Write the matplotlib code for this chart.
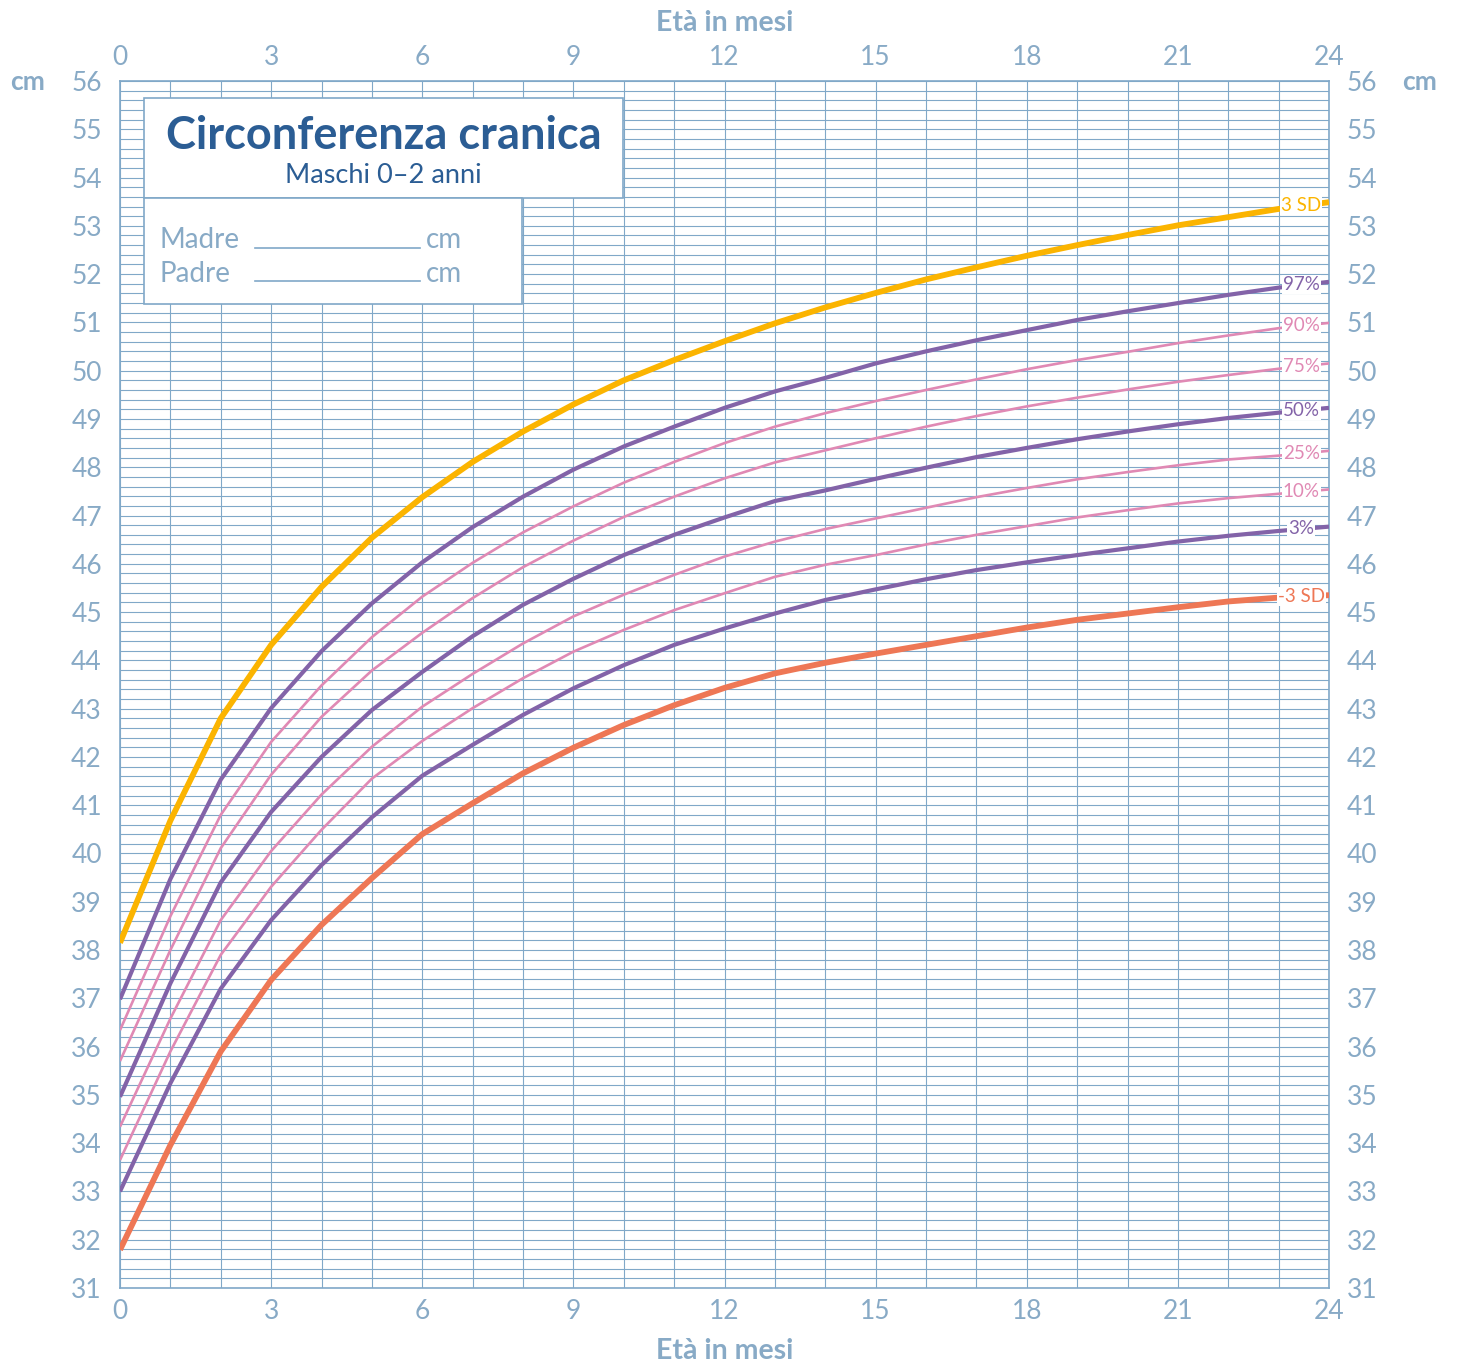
import matplotlib
matplotlib.use("Agg")
from matplotlib import pyplot as plt
from matplotlib.patches import Rectangle

plt.rcParams['font.family'] = ['Lato', 'DejaVu Sans']

# eta' in mesi
months = list(range(25))

# curve di crescita (cm)
sd3_up = [38.15, 40.68, 42.80, 44.32, 45.52, 46.54, 47.38, 48.11, 48.74, 49.30, 49.80, 50.22, 50.61,
          50.98, 51.31, 51.61, 51.89, 52.14, 52.38, 52.60, 52.81, 53.01, 53.18, 53.35, 53.49]
p97 = [36.98, 39.47, 41.53, 43.01, 44.19, 45.18, 46.03, 46.76, 47.39, 47.95, 48.43, 48.84, 49.23,
       49.57, 49.85, 50.15, 50.40, 50.63, 50.84, 51.05, 51.23, 51.40, 51.57, 51.72, 51.84]
p90 = [36.34, 38.70, 40.80, 42.31, 43.48, 44.48, 45.32, 46.02, 46.65, 47.19, 47.68, 48.11, 48.50,
       48.84, 49.12, 49.37, 49.60, 49.82, 50.03, 50.22, 50.39, 50.57, 50.73, 50.88, 50.99]
p75 = [35.70, 38.00, 40.11, 41.63, 42.83, 43.79, 44.57, 45.29, 45.93, 46.48, 46.97, 47.39, 47.77,
       48.10, 48.35, 48.60, 48.84, 49.06, 49.26, 49.44, 49.61, 49.77, 49.91, 50.04, 50.15]
p50 = [34.96, 37.31, 39.40, 40.86, 42.00, 42.97, 43.76, 44.50, 45.15, 45.69, 46.18, 46.60, 46.96,
       47.30, 47.52, 47.76, 47.99, 48.21, 48.40, 48.58, 48.74, 48.89, 49.02, 49.13, 49.23]
p25 = [34.34, 36.58, 38.62, 40.05, 41.22, 42.21, 43.04, 43.72, 44.35, 44.91, 45.36, 45.77, 46.15,
       46.46, 46.72, 46.94, 47.16, 47.38, 47.57, 47.75, 47.90, 48.04, 48.16, 48.24, 48.34]
p10 = [33.65, 35.90, 37.90, 39.31, 40.49, 41.55, 42.33, 43.01, 43.63, 44.18, 44.63, 45.04, 45.39,
       45.73, 45.98, 46.18, 46.40, 46.60, 46.78, 46.96, 47.11, 47.25, 47.36, 47.45, 47.54]
p3 = [33.00, 35.24, 37.20, 38.62, 39.76, 40.75, 41.61, 42.25, 42.87, 43.42, 43.90, 44.32, 44.66,
      44.97, 45.25, 45.47, 45.68, 45.87, 46.03, 46.18, 46.32, 46.46, 46.58, 46.68, 46.77]
sd3_dn = [31.79, 33.96, 35.90, 37.38, 38.52, 39.49, 40.40, 41.04, 41.66, 42.19, 42.66, 43.07, 43.43,
          43.73, 43.95, 44.14, 44.32, 44.50, 44.68, 44.84, 44.97, 45.10, 45.22, 45.30, 45.35]

curve_labels = ["3 SD", "97%", "90%", "75%", "50%", "25%", "10%", "3%", "-3 SD"]
x_ticks = [0, 3, 6, 9, 12, 15, 18, 21, 24]
y_ticks = list(range(31, 57))

YELLOW = "#fbb400"
PURPLE = "#8363a8"
PINK = "#e089b4"
ORANGE = "#ee7755"
GRID = "#80a8c8"
TICK = "#88aac6"
TITLE = "#2b5d94"

curves = [sd3_up, p97, p90, p75, p50, p25, p10, p3, sd3_dn]
styles = [(YELLOW, 4.2), (PURPLE, 3.0), (PINK, 1.9), (PINK, 1.9), (PURPLE, 3.0),
          (PINK, 1.9), (PINK, 1.9), (PURPLE, 3.0), (ORANGE, 4.2)]

fig = plt.figure(figsize=(14.59, 13.64), dpi=100)
ax = fig.add_axes([120 / 1459, 1 - 1288 / 1364, 1209 / 1459, 1207 / 1364])

ax.set_xlim(0, 24)
ax.set_ylim(31, 56)

# griglia: un mese / 2 mm
for m in months:
    ax.axvline(m, color=GRID, lw=0.8, zorder=1)
for i in range(31 * 5, 56 * 5 + 1):
    ax.axhline(i / 5, color=GRID, lw=0.8, zorder=1)

for spine in ax.spines.values():
    spine.set_color(GRID)
    spine.set_linewidth(1.2)

for vals, (col, lw), lab in zip(curves, styles, curve_labels):
    ax.plot(months, vals, color=col, lw=lw, zorder=3, solid_capstyle='butt')
    ypos = (vals[23] + vals[24]) / 2
    ax.text(23.45, ypos, lab, color=col, fontsize=13.5, ha='center', va='center', zorder=4,
            bbox=dict(boxstyle='square,pad=0.05', fc='white', ec='none'))

ax.set_xticks(x_ticks)
ax.set_yticks(y_ticks)
ax.tick_params(axis='both', length=0, labelsize=19, labelcolor=TICK,
               labeltop=True, labelright=True, top=False, right=False)
ax.tick_params(axis='x', pad=8)
ax.tick_params(axis='y', pad=13)

fig.text(28 / 1459, 1 - 82 / 1364, "cm", color=TICK, fontsize=19, fontweight='bold',
         ha='center', va='center')
fig.text(1420 / 1459, 1 - 82 / 1364, "cm", color=TICK, fontsize=19, fontweight='bold',
         ha='center', va='center')
fig.text(725 / 1459, 1 - 23 / 1364, "Età in mesi", color=TICK, fontsize=20.5, fontweight='bold',
         ha='center', va='center')
fig.text(725 / 1459, 1 - 1351 / 1364, "Età in mesi", color=TICK, fontsize=20.5, fontweight='bold',
         ha='center', va='center')

# riquadro titolo
ax.add_patch(Rectangle((0.0199, 0.903), 0.396, 0.083, transform=ax.transAxes,
                       fc='white', ec=GRID, lw=1.2, zorder=5))
ax.add_patch(Rectangle((0.0199, 0.815), 0.3126, 0.088, transform=ax.transAxes,
                       fc='white', ec=GRID, lw=1.2, zorder=5))
ax.text(0.218, 0.9545, "Circonferenza cranica", transform=ax.transAxes, color=TITLE,
        fontsize=32.5, fontweight='bold', ha='center', va='center', zorder=6)
ax.text(0.218, 0.922, "Maschi 0–2 anni", transform=ax.transAxes, color=TITLE,
        fontsize=19.5, ha='center', va='center', zorder=6)
for yy, name in [(0.868, "Madre"), (0.840, "Padre")]:
    ax.text(0.033, yy, name, transform=ax.transAxes, color=TICK, fontsize=20,
            ha='left', va='center', zorder=6)
    ax.plot([0.1117, 0.2481], [yy - 0.006, yy - 0.006], transform=ax.transAxes,
            color=GRID, lw=1.2, zorder=6)
    ax.text(0.2531, yy, "cm", transform=ax.transAxes, color=TICK, fontsize=20,
            ha='left', va='center', zorder=6)

fig.savefig("out.png", dpi=100)
